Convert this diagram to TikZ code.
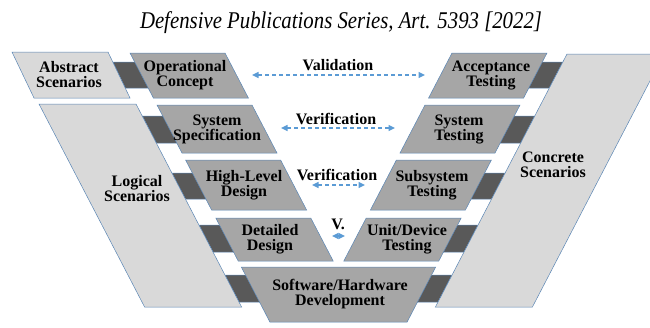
\documentclass[tikz,border=0pt]{standalone}
\usepackage{fontspec}
\setmainfont{Liberation Serif}
\usetikzlibrary{arrows.meta}
\definecolor{boxgray}{HTML}{A6A6A6}
\definecolor{panelgray}{HTML}{D9D9D9}
\definecolor{darkgray2}{HTML}{595959}
\definecolor{edgeblue}{HTML}{5A86B5}
\definecolor{arrowblue}{HTML}{5B9BD5}
\tikzset{
  boxshape/.style={fill=boxgray, draw=edgeblue, line width=0.5pt, line join=miter},
  panelshape/.style={fill=panelgray, draw=edgeblue, line width=0.5pt},
  linkshape/.style={fill=darkgray2, draw=edgeblue, line width=0.5pt},
  lbl/.style={align=center, font=\fontsize{16}{15}\selectfont\bfseries, inner sep=0pt},
  vvarrow/.style={arrowblue, line width=1.5pt, dash pattern=on 4pt off 3pt,
    {Triangle[length=6.5pt,width=6pt]}-{Triangle[length=6.5pt,width=6pt]}}
}
\begin{document}
\begin{tikzpicture}[x=1pt,y=-1pt]
\useasboundingbox (0,0) rectangle (650,327);
\clip (0,0) rectangle (650,327);
% dark links (behind)
\draw[linkshape] (112.8,62) -- (145,62) -- (158,88) -- (125.2,88) -- cycle;
\draw[linkshape] (142.3,116) -- (172,116) -- (186,143) -- (156.3,143) -- cycle;
\draw[linkshape] (171.9,173) -- (202,173) -- (215,199) -- (185.4,199) -- cycle;
\draw[linkshape] (199,225) -- (229,225) -- (243,252) -- (213,252) -- cycle;
\draw[linkshape] (225,275) -- (255,275) -- (269,302) -- (239,302) -- cycle;
\draw[linkshape] (532,62) -- (562.8,62) -- (549.3,88) -- (519,88) -- cycle;
\draw[linkshape] (534.7,116) -- (505,116) -- (491,143) -- (520.7,143) -- cycle;
\draw[linkshape] (505.1,173) -- (475,173) -- (462,199) -- (491.6,199) -- cycle;
\draw[linkshape] (478,225) -- (448,225) -- (434,252) -- (464,252) -- cycle;
\draw[linkshape] (452,275) -- (422,275) -- (408,302) -- (438,302) -- cycle;
% scenario panels
\draw[panelshape] (12,52) -- (108,52) -- (130,98) -- (34,98) -- cycle;
\draw[panelshape] (39,104) -- (136,104) -- (241.6,307) -- (144.6,307) -- cycle;
\draw[panelshape] (567,54) -- (664,54) -- (532.4,307) -- (435.4,307) -- cycle;
% left boxes
\draw[boxshape] (130,53) -- (225,53) -- (248.4,98) -- (153.4,98) -- cycle;
\draw[boxshape] (157,105) -- (252,105) -- (277,153) -- (182,153) -- cycle;
\draw[boxshape] (185.6,160) -- (280.6,160) -- (306.6,210) -- (211.6,210) -- cycle;
\draw[boxshape] (215.8,218) -- (310.8,218) -- (333.2,261) -- (238.2,261) -- cycle;
% right boxes
\draw[boxshape] (452,53) -- (547,53) -- (523.6,98) -- (428.6,98) -- cycle;
\draw[boxshape] (425,105) -- (520,105) -- (495,153) -- (400,153) -- cycle;
\draw[boxshape] (396.4,160) -- (491.4,160) -- (465.4,210) -- (370.4,210) -- cycle;
\draw[boxshape] (366.2,218) -- (461.2,218) -- (438.8,261) -- (343.8,261) -- cycle;
% bottom
\draw[boxshape] (241.3,267) -- (435.7,267) -- (407.1,322) -- (269.9,322) -- cycle;
% labels
\node[lbl] (abs) at (69,75) {Abstract\\Scenarios};
\node[lbl] (log) at (137,189) {Logical\\Scenarios};
\node[lbl] (con) at (553,165) {Concrete\\Scenarios};
\node[lbl] (oc) at (185,75.5) {Operational\\Concept};
\node[lbl] (ss) at (217,129) {System\\Specification};
\node[lbl] (hl) at (244,185) {High-Level\\Design};
\node[lbl] (dd) at (270,239.5) {Detailed\\Design};
\node[lbl] (sw) at (340,294.5) {Software/Hardware\\Development};
\node[lbl] (at) at (491,75.5) {Acceptance\\Testing};
\node[lbl] (st) at (459,129) {System\\Testing};
\node[lbl] (sub) at (432,185) {Subsystem\\Testing};
\node[lbl] (ud) at (407,239.5) {Unit/Device\\Testing};
% V labels and arrows
\node[lbl] (val) at (338,65) {Validation};
\node[lbl] (ver1) at (336,119) {Verification};
\node[lbl] (ver2) at (337,175) {Verification};
\node[lbl] (vv) at (338,224) {V.};
\coordinate (a1l) at (252,75); \coordinate (a1r) at (425,75);
\coordinate (a2l) at (281,128); \coordinate (a2r) at (395,128);
\coordinate (a3l) at (312,185); \coordinate (a3r) at (365,185);
\coordinate (a4l) at (332,236); \coordinate (a4r) at (345,236);
\draw[vvarrow] (a1l) -- (a1r);
\draw[vvarrow] (a2l) -- (a2r);
\draw[vvarrow] (a3l) -- (a3r);
\draw[arrowblue, {Triangle[length=6.5pt,width=6pt]}-{Triangle[length=6.5pt,width=6pt]}, line width=1.5pt] (a4l) -- (a4r);
% title
\node[anchor=base, inner sep=0pt] (title) at (341,28) {\resizebox{402pt}{\height}{\fontsize{24}{26}\selectfont\itshape Defensive Publications Series, Art. 5393 [2022]}};
\end{tikzpicture}
\end{document}
